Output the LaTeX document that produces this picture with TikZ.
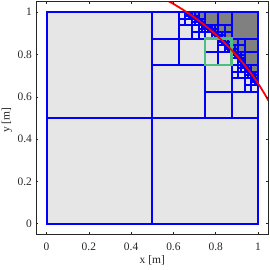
\documentclass[tikz,border=0pt]{standalone}
\usepackage{fontspec}
\setmainfont{Liberation Serif}
\usepackage{tikz}
\usetikzlibrary{positioning}
\usepackage{xcolor}
\definecolor{cellgray}{RGB}{230,230,230}
\definecolor{outgray}{RGB}{128,128,128}
\definecolor{cellblue}{RGB}{0,0,255}
\definecolor{boxgreen}{RGB}{77,190,125}
\definecolor{axisgray}{RGB}{38,38,38}

% quadtree refined where the circle x^2+y^2=1.2^2 cuts a cell
\newcommand{\qtmaxdepth}{7}
\newcommand{\qtradsq}{1.44}
\gdef\qtleaves{}
\gdef\qtouter{}
\newcommand{\qtcell}[4]{%
  \begingroup
  \pgfmathsetmacro{\qtnear}{(#1)*(#1)+(#2)*(#2)}%
  \pgfmathsetmacro{\qtfar}{(#1+#3)*(#1+#3)+(#2+#3)*(#2+#3)}%
  \pgfmathtruncatemacro{\qtsplit}{(\qtnear<\qtradsq && \qtfar>\qtradsq && #4<\qtmaxdepth) ? 1 : 0}%
  \ifnum\qtsplit=1
    \pgfmathsetmacro{\qth}{#3/2}%
    \pgfmathsetmacro{\qtxm}{#1+\qth}%
    \pgfmathsetmacro{\qtym}{#2+\qth}%
    \pgfmathtruncatemacro{\qtd}{#4+1}%
    \edef\qtnext{%
      \noexpand\qtcell{#1}{#2}{\qth}{\qtd}%
      \noexpand\qtcell{\qtxm}{#2}{\qth}{\qtd}%
      \noexpand\qtcell{#1}{\qtym}{\qth}{\qtd}%
      \noexpand\qtcell{\qtxm}{\qtym}{\qth}{\qtd}}%
    \qtnext
  \else
    \xdef\qtleaves{\qtleaves (#1,#2) rectangle ++(#3,#3) }%
    \pgfmathtruncatemacro{\qtout}{\qtnear>\qtradsq ? 1 : 0}%
    \ifnum\qtout=1 \xdef\qtouter{\qtouter (#1,#2) rectangle ++(#3,#3) }\fi
  \fi
  \endgroup}

\begin{document}
\begin{tikzpicture}[x=211.5bp, y=211.5bp,
    incell/.style={fill=cellgray},
    outcell/.style={fill=outgray},
    cellline/.style={draw=cellblue, line width=2pt},
    marked/.style={draw=boxgreen, line width=2.4pt},
    boundary/.style={draw=red, line width=1.8pt},
    axisline/.style={draw=axisgray, line width=0.5pt},
    ticklab/.style={font=\fontsize{11.5}{13}\selectfont, text=axisgray, inner sep=0pt}]
  \useasboundingbox (-0.22,-0.219) rectangle (1.0567,1.0577);

  % domain and quadtree
  \qtcell{0}{0}{1}{0}
  \fill[incell] (0,0) rectangle (1,1);
  \fill[outcell] \qtouter;
  \draw[cellline] \qtleaves;

  % marked cell
  \draw[marked] (0.75,0.75) rectangle (0.875,0.875);

  % circle
  \begin{scope}
    \clip (-0.05,-0.05) rectangle (1.05,1.05);
    \draw[boundary] plot[domain=25:65, samples=80, smooth] ({1.2*cos(\x)},{1.2*sin(\x)});
  \end{scope}

  % axes
  \draw[axisline] (-0.05,-0.05) rectangle (1.05,1.05);
  \foreach \v [count=\i] in {0,0.2,0.4,0.6,0.8,1} {
    \draw[axisline] (\v,-0.05) -- ++(0,0.012);
    \draw[axisline] (\v,1.05) -- ++(0,-0.012);
    \draw[axisline] (-0.05,\v) -- ++(0.012,0);
    \draw[axisline] (1.05,\v) -- ++(-0.012,0);
    \node[ticklab] (xtick\i) at (\v,-0.11) {\v};
    \node[ticklab, anchor=east] (ytick\i) at (-0.068,\v) {\v};
  }
  \node[ticklab] (xlabel) at (0.5,-0.172) {x [m]};
  \node[ticklab, rotate=90] (ylabel) at (-0.187,0.49) {y [m]};
\end{tikzpicture}
\end{document}
